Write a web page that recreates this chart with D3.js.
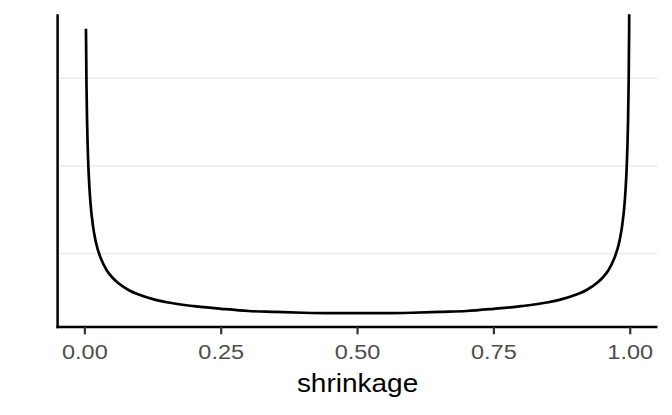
<!DOCTYPE html>
<html>
<head>
<meta charset="utf-8">
<script src="https://cdn.jsdelivr.net/npm/d3@7"></script>
<style>
  body { margin: 0; background: #fff; }
  text { font-family: "Liberation Sans", Arial, Helvetica, sans-serif; }
</style>
</head>
<body>
<div id="chart"></div>
<script>
// density of shrinkage
const shrinkage = [
  0.002, 0.003, 0.004, 0.005, 0.007, 0.01, 0.015, 0.02, 0.03, 0.04, 0.05, 0.06, 0.08,
  0.1, 0.125, 0.15, 0.2, 0.25, 0.3, 0.35, 0.4, 0.45, 0.5,
  0.55, 0.6, 0.65, 0.7, 0.75, 0.8, 0.85, 0.875, 0.9, 0.92, 0.94, 0.95, 0.96, 0.97,
  0.98, 0.985, 0.99, 0.993, 0.995, 0.996, 0.997, 0.998, 0.999
];
const density = [
  7.13, 5.82, 5.04, 4.51, 3.82, 3.2, 2.62, 2.27, 1.87, 1.62, 1.46, 1.34, 1.17,
  1.06, 0.96, 0.89, 0.8, 0.74, 0.69, 0.67, 0.65, 0.64, 0.64,
  0.64, 0.65, 0.67, 0.69, 0.74, 0.8, 0.89, 0.96, 1.06, 1.17, 1.34, 1.46, 1.62, 1.87,
  2.27, 2.62, 3.2, 3.82, 4.51, 5.04, 5.82, 7.13, 10.07
];
const xTicks = [0, 0.25, 0.5, 0.75, 1];
const yGrid = [2, 4, 6];
const xTitle = "shrinkage";

const width = 672;
const height = 415;
const stretch = 1.12; // text in the reference is drawn a little wider than normal

const x = d3.scaleLinear().domain([-0.05, 1.05]).range([57.6, 657.5]);
const y = d3.scaleLinear().domain([0.325, 7.46]).range([327, 14.3]);

const svg = d3.select("#chart").append("svg")
  .attr("width", width).attr("height", height);

svg.append("clipPath").attr("id", "panel")
  .append("rect")
  .attr("x", x.range()[0]).attr("y", y.range()[1])
  .attr("width", x.range()[1] - x.range()[0])
  .attr("height", y.range()[0] - y.range()[1]);

// grid
svg.append("g").selectAll("line")
  .data(yGrid).enter().append("line")
  .attr("x1", x.range()[0]).attr("x2", x.range()[1])
  .attr("y1", (d) => y(d)).attr("y2", (d) => y(d))
  .attr("stroke", "#ebebeb").attr("stroke-width", 1.5);

// curve
const points = shrinkage.map((s, i) => [s, density[i]]);
svg.append("path")
  .datum(points)
  .attr("clip-path", "url(#panel)")
  .attr("fill", "none")
  .attr("stroke", "#000")
  .attr("stroke-width", 2.7)
  .attr("d", d3.line().x((d) => x(d[0])).y((d) => y(d[1])).curve(d3.curveMonotoneX));

// axes
svg.append("line")
  .attr("x1", x.range()[0]).attr("x2", x.range()[0])
  .attr("y1", y.range()[1]).attr("y2", y.range()[0] + 1.2)
  .attr("stroke", "#000").attr("stroke-width", 2.5);
svg.append("line")
  .attr("x1", x.range()[0] - 1.2).attr("x2", x.range()[1])
  .attr("y1", y.range()[0]).attr("y2", y.range()[0])
  .attr("stroke", "#000").attr("stroke-width", 2.5);

const ticks = svg.append("g").selectAll("g")
  .data(xTicks).enter().append("g")
  .attr("transform", (d) => `translate(${x(d)},${y.range()[0]})`);
ticks.append("line")
  .attr("y1", 0).attr("y2", 7.3)
  .attr("stroke", "#333").attr("stroke-width", 2.2);
ticks.append("text")
  .attr("transform", `translate(0,31.5) scale(${stretch},1)`)
  .attr("text-anchor", "middle")
  .attr("font-size", 21)
  .attr("fill", "#4d4d4d")
  .text((d) => d3.format(".2f")(d));

svg.append("text")
  .attr("transform", `translate(${(x.range()[0] + x.range()[1]) / 2},392) scale(${stretch},1)`)
  .attr("text-anchor", "middle")
  .attr("font-size", 25)
  .attr("fill", "#000")
  .text(xTitle);
</script>
</body>
</html>
